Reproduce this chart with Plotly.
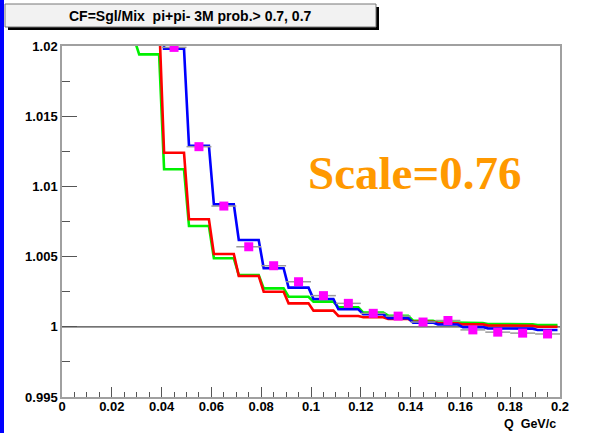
import plotly.graph_objects as go

# ---------------- data ----------------
# lower edges of the 0.01-wide Q bins (GeV/c)
q_lo = [0.02, 0.03, 0.04, 0.05, 0.06, 0.07, 0.08, 0.09, 0.10, 0.11,
        0.12, 0.13, 0.14, 0.15, 0.16, 0.17, 0.18, 0.19]

cf_blue = [1.045, 1.060, 1.0198, 1.0129, 1.00872, 1.00618, 1.00417, 1.00279,
           1.00198, 1.00125, 1.00089, 1.00062, 1.00030, 1.00016, 0.99998,
           0.99989, 0.99987, 0.99977]
cf_red = [1.030, 1.0219, 1.0124, 1.00766, 1.00519, 1.00362, 1.00250, 1.00167,
          1.00115, 1.00077, 1.00068, 1.00056, 1.00036, 1.00025, 1.00017,
          1.00010, 1.00008, 1.00000]
cf_green = [1.0205, 1.0194, 1.01122, 1.00718, 1.00488, 1.00369, 1.00274,
            1.00214, 1.00179, 1.00138, 1.00101, 1.00079, 1.00043, 1.00032,
            1.00027, 1.00020, 1.00018, 1.00013]

q_pts = [0.045, 0.055, 0.065, 0.075, 0.085, 0.095, 0.105, 0.115, 0.125,
         0.135, 0.145, 0.155, 0.165, 0.175, 0.185, 0.195]
cf_pts = [1.0199, 1.01283, 1.0086, 1.0057, 1.00435, 1.00321, 1.00222, 1.00167,
          1.00096, 1.00076, 1.00034, 1.00045, 0.99978, 0.99962, 0.99955,
          0.99949]
q_err = 0.005

reference_level = 1.0

x_tickvals = [0, 0.02, 0.04, 0.06, 0.08, 0.10, 0.12, 0.14, 0.16, 0.18, 0.20]
x_ticktext = ["0", "0.02", "0.04", "0.06", "0.08", "0.1", "0.12", "0.14",
              "0.16", "0.18", "0.2"]
y_tickvals = [0.995, 1.0, 1.005, 1.01, 1.015, 1.02]
y_ticktext = ["0.995", "1", "1.005", "1.01", "1.015", "1.02"]

title_text = "CF=Sgl/Mix\u00a0\u00a0pi+pi- 3M prob.> 0.7, 0.7"
x_title = "Q\u00a0\u00a0GeV/c"
scale_text = "Scale=0.76"

# ---------------- layout geometry ----------------
W, H = 606, 433
L, R, T, B = 62, 560, 46, 397


def px(xp):
    return (xp - L) / (R - L)


def py(yp):
    return (B - yp) / (B - T)


def fine_line(lo_edges, vals):
    xs, ys = [], []
    for lo, v in zip(lo_edges, vals):
        xs += [lo + 0.001, lo + 0.009]
        ys += [v, v]
    return xs, ys


fig = go.Figure()

for vals, col in [(cf_green, "#00f000"), (cf_red, "#ff0000"), (cf_blue, "#0000ff")]:
    xs, ys = fine_line(q_lo, vals)
    fig.add_trace(go.Scatter(x=xs, y=ys, mode="lines",
                             line=dict(color=col, width=2.6),
                             showlegend=False, hoverinfo="skip"))

fig.add_trace(go.Scatter(
    x=q_pts, y=cf_pts, mode="markers",
    marker=dict(symbol="square", size=9, color="#ff00ff"),
    error_x=dict(type="constant", value=q_err, color="#9a9a9a",
                 thickness=1.5, width=0),
    showlegend=False, hoverinfo="skip"))

tickfont = dict(family="Liberation Sans, Arial, sans-serif", size=13,
                color="#000000", weight="bold")

fig.update_layout(
    width=W, height=H,
    margin=dict(l=L, r=W - R, t=T, b=H - B, pad=0),
    paper_bgcolor="white", plot_bgcolor="white",
    xaxis=dict(range=[0, 0.2], tickmode="array", tickvals=x_tickvals,
               ticktext=x_ticktext, ticks="inside", ticklen=10.5,
               tickcolor="#555555", tickwidth=1, showgrid=False,
               zeroline=False, showline=True, linecolor="#a0a0a0",
               linewidth=1.5, mirror=True, tickfont=tickfont,
               ticklabelstandoff=-3,
               minor=dict(tick0=0, dtick=0.005, ticks="inside", ticklen=5.5,
                          tickcolor="#555555", tickwidth=1, showgrid=False)),
    yaxis=dict(range=[0.995, 1.02], tickmode="array", tickvals=y_tickvals,
               ticktext=y_ticktext, ticks="inside", ticklen=15,
               tickcolor="#555555", tickwidth=1, showgrid=False,
               zeroline=False, showline=True, linecolor="#a0a0a0",
               linewidth=1.5, mirror=True, tickfont=tickfont,
               minor=dict(tick0=0.995, dtick=0.0025, ticks="inside",
                          ticklen=8, tickcolor="#555555", tickwidth=1,
                          showgrid=False)),
    shapes=[
        # reference line at CF = 1
        dict(type="line", xref="x", yref="y", x0=0, x1=0.2,
             y0=reference_level, y1=reference_level,
             line=dict(color="#444444", width=1.2), layer="below"),
        # blue slide strip on the left
        dict(type="rect", xref="paper", yref="paper",
             x0=px(0), x1=px(4), y0=py(H), y1=py(0),
             fillcolor="#0000ff", line=dict(width=0)),
        # title box shadow
        dict(type="rect", xref="paper", yref="paper",
             x0=px(8), x1=px(379), y0=py(30), y1=py(7),
             fillcolor="#000000", line=dict(width=0)),
        # title box
        dict(type="rect", xref="paper", yref="paper",
             x0=px(5), x1=px(376), y0=py(27), y1=py(4),
             fillcolor="#f2f2f2", line=dict(color="#777777", width=1)),
    ],
    annotations=[
        dict(text=title_text, xref="paper", yref="paper", x=px(190), y=py(16),
             xanchor="center", yanchor="middle", showarrow=False,
             font=dict(family="Liberation Sans, Arial, sans-serif", size=14,
                       color="#000000", weight="bold")),
        dict(text=x_title, xref="paper", yref="paper", x=px(558), y=py(424),
             xanchor="right", yanchor="middle", showarrow=False,
             font=dict(family="Liberation Sans, Arial, sans-serif", size=12.5,
                       color="#000000", weight="bold")),
        dict(text=scale_text, xref="paper", yref="paper", x=px(414), y=py(173),
             xanchor="center", yanchor="middle", showarrow=False,
             font=dict(family="Liberation Serif, Times New Roman, serif",
                       size=47, color="#ff9900", weight="bold")),
    ],
)

fig.write_html("out.html")
